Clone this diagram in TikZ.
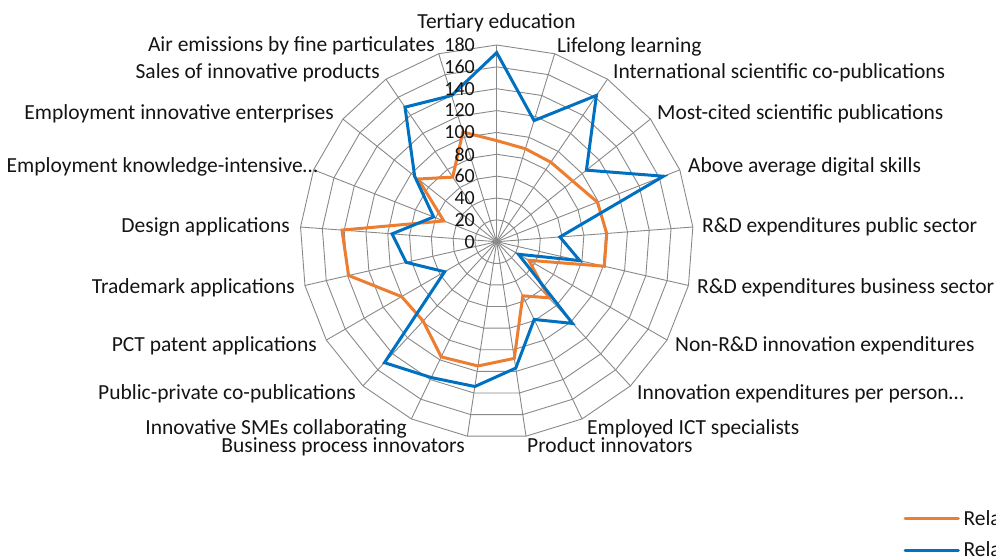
\documentclass[tikz,border=0pt]{standalone}
\usepackage{fontspec}
\setmainfont{Carlito}
\definecolor{gridgray}{RGB}{137,137,137}
\definecolor{serorange}{RGB}{237,125,49}
\definecolor{serblue}{RGB}{0,112,192}
\definecolor{txt}{RGB}{20,20,20}
\begin{document}
\begin{tikzpicture}[x=1bp,y=-1bp,
  gridline/.style={draw=gridgray,line width=0.9bp},
  seriesorange/.style={draw=serorange,line width=3bp,line join=miter},
  seriesblue/.style={draw=serblue,line width=3bp,line join=miter},
  lbl/.style={inner sep=0pt,text=txt,font=\fontsize{21.5bp}{25bp}\selectfont},
  rlbl/.style={lbl,anchor=base west},
  llbl/.style={lbl,anchor=base east},
  tick/.style={inner sep=0pt,text=txt,font=\fontsize{20bp}{24bp}\selectfont,anchor=east},
  legline/.style={line width=3bp,line cap=round}]
\useasboundingbox (0,0) rectangle (996,557);
\def\S{1.09278}
\begin{scope}[shift={(496.7,241.7)}]
  \coordinate (c) at (0,0);
  % rings
  \foreach \k in {1,...,9} {
    \draw[gridline] (-90:{\k*20*\S}) \foreach \i in {1,...,20} { -- ({-90+\i*360/21}:{\k*20*\S}) } -- cycle;
  }
  % spokes
  \foreach \i in {0,...,20} {
    \coordinate (ax\i) at ({-90+\i*360/21}:{180*\S});
    \draw[gridline] (c) -- (ax\i);
  }
  % series
  \draw[seriesorange] (-90:{92.5*\S}) \foreach \v [count=\i] in {89,88,89,99,101,101,34,70,55,108,115,117,99,100.5,139,142,52,92,71.5,105} { -- ({-90+\i*360/21}:{\v*\S}) } -- cycle;
  \draw[seriesblue] (-90:{173*\S}) \foreach \v [count=\i] in {116,162,105,164,58,78,23,102,79,117,134,138,151,55,85,96,62,96,149,140} { -- ({-90+\i*360/21}:{\v*\S}) } -- cycle;
\end{scope}
% tick labels
\foreach \k in {0,...,9} {
  \pgfmathtruncatemacro{\val}{\k*20}
  \node[tick] (t\k) at (475,{241.7-\k*20*\S}) {\val};
}
% axis labels
\node[lbl,anchor=base] (l0) at (496.5,28.5) {Tertiary education};
\node[rlbl] (l1) at (557,53) {Lifelong learning};
\node[rlbl] (l2) at (613,79) {International scientific co-publications};
\node[rlbl] (l3) at (657,120) {Most-cited scientific publications};
\node[rlbl] (l4) at (688,173) {Above average digital skills};
\node[rlbl] (l5) at (702,233) {R\&D expenditures public sector};
\node[rlbl] (l6) at (697,294) {R\&D expenditures business sector};
\node[rlbl] (l7) at (675,352) {Non-R\&D innovation expenditures};
\node[rlbl] (l8) at (637,399) {Innovation expenditures per person…};
\node[rlbl] (l9) at (587,434) {Employed ICT specialists};
\node[rlbl] (l10) at (527,452) {Product innovators};
\node[llbl] (l11) at (465,452) {Business process innovators};
\node[llbl] (l12) at (407,434) {Innovative SMEs collaborating};
\node[llbl] (l13) at (356,399) {Public-private co-publications};
\node[llbl] (l14) at (317,352) {PCT patent applications};
\node[llbl] (l15) at (295,294) {Trademark applications};
\node[llbl] (l16) at (290,233) {Design applications};
\node[llbl] (l17) at (318,173) {Employment knowledge-intensive…};
\node[llbl] (l18) at (334,120) {Employment innovative enterprises};
\node[llbl] (l19) at (380,79) {Sales of innovative products};
\node[llbl] (l20) at (435,52) {Air emissions by fine particulates};
% legend
\coordinate (la1) at (905,518.3);
\coordinate (lb1) at (958.3,518.3);
\coordinate (la2) at (905,550.7);
\coordinate (lb2) at (958.3,550.7);
\draw[legline,serorange] (la1) -- (lb1);
\draw[legline,serblue] (la2) -- (lb2);
\node[rlbl] (leg1) at (963.3,525) {Rela};
\node[rlbl] (leg2) at (963.3,556) {Rela};
\end{tikzpicture}
\end{document}
